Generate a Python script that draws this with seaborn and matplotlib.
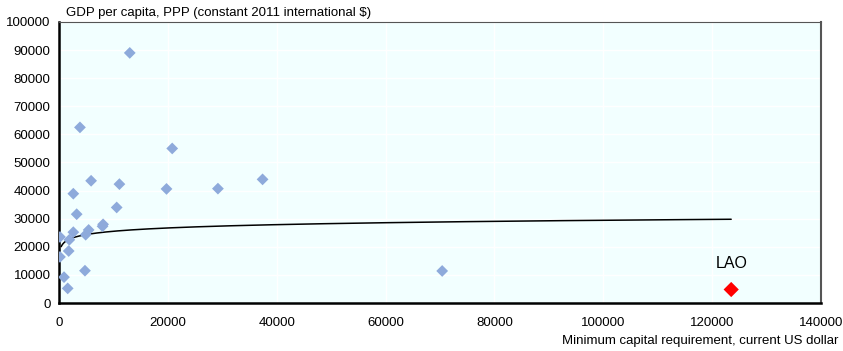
import numpy as np
import pandas as pd
import matplotlib
matplotlib.use("Agg")
import matplotlib.pyplot as plt
import seaborn as sns

# minimum capital requirement (current US$) vs GDP per capita, PPP
min_capital = [13000, 3850, 20800, 5900, 11100, 19750, 29200, 37400, 2630, 10600,
               3250, 8100, 8000, 5450, 2630, 4900, 180, 1900, 1780, 180,
               4770, 920, 1600, 70400]
gdp_pc = [89000, 62500, 55000, 43500, 42300, 40600, 40700, 44000, 38900, 34000,
          31600, 28000, 27300, 26000, 25200, 24300, 23500, 22500, 18500, 16400,
          11500, 9200, 5200, 11400]
lao_capital = [123500]
lao_gdp = [4800]

# logarithmic trend line as drawn in the chart: y = slope * ln(x) + intercept
trend_slope = 1700
trend_intercept = 9870
trend_x = np.geomspace(400, 123500, 400)
trend = pd.DataFrame({"x": trend_x, "y": trend_slope * np.log(trend_x) + trend_intercept})

sns.set_style("white")
plt.rcParams["font.family"] = ["Liberation Sans", "DejaVu Sans"]
plt.rcParams["text.color"] = "black"
plt.rcParams["xtick.color"] = "black"
plt.rcParams["ytick.color"] = "black"

fig = plt.figure(figsize=(8.43, 3.51), dpi=100)
ax = fig.add_axes([59 / 843, 1 - 303 / 351, 762 / 843, 281 / 351])
ax.set_facecolor("#F2FFFF")

sns.lineplot(data=trend, x="x", y="y", ax=ax, color="black", linewidth=1.1, zorder=2)
sns.scatterplot(x=min_capital, y=gdp_pc, ax=ax, marker="D", s=36, color="#8EAADB",
                edgecolor="none", zorder=3)
sns.scatterplot(x=lao_capital, y=lao_gdp, ax=ax, marker="D", s=60, color="#FF0000",
                edgecolor="none", zorder=4)
ax.text(lao_capital[0], lao_gdp[0] + 6500, "LAO", ha="center", va="bottom", fontsize=11.5)

ax.set_xlim(0, 140000)
ax.set_ylim(0, 100000)
ax.set_xticks(np.arange(0, 140001, 20000))
ax.set_yticks(np.arange(0, 100001, 10000))
ax.grid(True, color="white", linewidth=1)
ax.set_axisbelow(True)
ax.tick_params(direction="in", length=3, labelsize=9.5, pad=6)
ax.tick_params(axis="x", pad=10)

for side in ["left", "bottom"]:
    ax.spines[side].set_color("black")
    ax.spines[side].set_linewidth(1.8)
ax.spines["top"].set_color("#555555")
ax.spines["top"].set_linewidth(0.8)
ax.spines["right"].set_color("#555555")
ax.spines["right"].set_linewidth(1.5)
for side in ax.spines:
    ax.spines[side].set_visible(True)

ax.set_xlabel("")
ax.set_ylabel("")
fig.text(66 / 843, 1 - 13 / 351, "GDP per capita, PPP (constant 2011 international $)",
         fontsize=9.5, va="center", ha="left")
fig.text(838 / 843, 1 - 341 / 351, "Minimum capital requirement, current US dollar",
         fontsize=9.5, va="center", ha="right")

fig.savefig("out.png", dpi=100)
